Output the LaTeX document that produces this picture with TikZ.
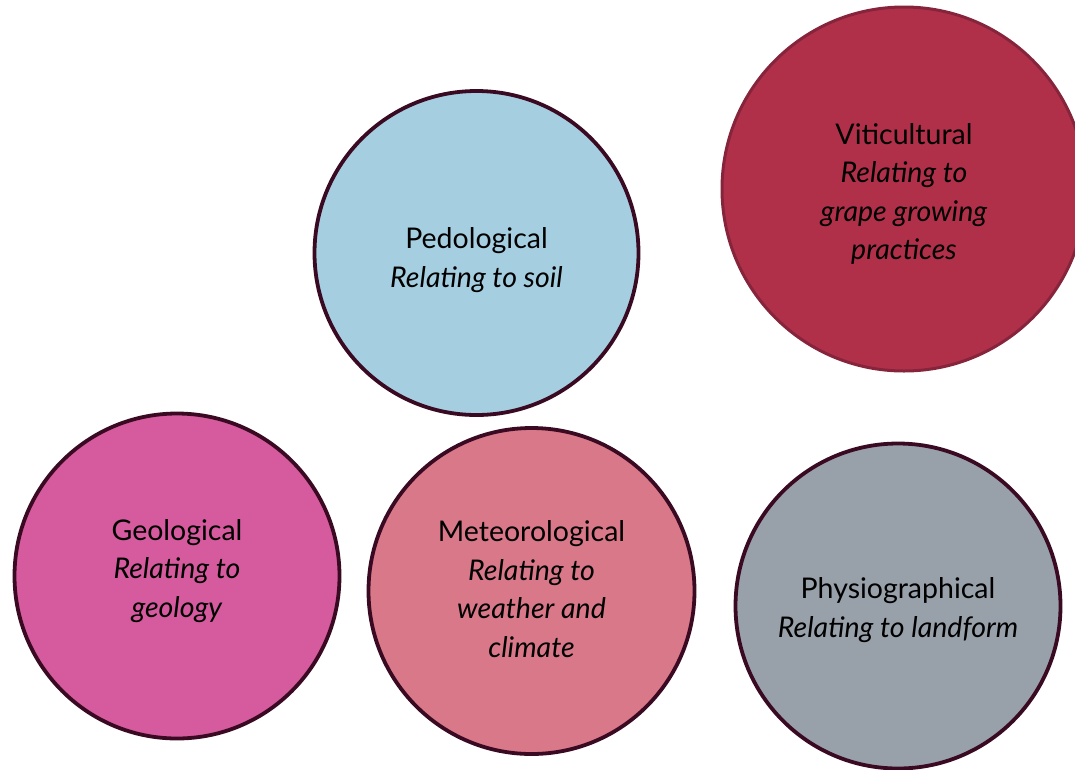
\documentclass[tikz,border=0pt]{standalone}
\usepackage{fontspec}
\setmainfont{Lato}
\definecolor{rim}{HTML}{3A0A22}
\definecolor{vitrim}{HTML}{85243A}
\definecolor{pedfill}{HTML}{A5CFE1}
\definecolor{vitfill}{HTML}{B03049}
\definecolor{geofill}{HTML}{D55A9E}
\definecolor{metfill}{HTML}{D97889}
\definecolor{phyfill}{HTML}{98A0AA}
\begin{document}
\begin{tikzpicture}[x=1pt,y=-1pt,
  bub/.style={circle, draw=rim, line width=3.8pt, inner sep=0pt},
  txt/.style={align=center, inner sep=0pt, font=\fontsize{28.5}{38.5}\selectfont, text=black}]
\useasboundingbox (0,0) rectangle (1075,769);
\clip (0,0) rectangle (1075,769);
\node[bub, fill=vitfill, draw=vitrim, line width=3pt, minimum size=364pt] (vit) at (904,189) {};
\node[txt] (vitt) at ([yshift=-5pt]vit.center)
  {Viticultural\\\textit{Relating to}\\\textit{grape growing}\\\textit{practices}};
\node[bub, fill=pedfill, minimum size=324pt] (ped) at (476.5,253) {};
\node[txt] (pedt) at ([yshift=-7pt]ped.center)
  {Pedological\\\textit{Relating to soil}};
\node[bub, fill=geofill, minimum size=325pt] (geo) at (177,576) {};
\node[txt] (geot) at ([yshift=5pt]geo.center)
  {Geological\\\textit{Relating to}\\\textit{geology}};
\node[bub, fill=metfill, minimum size=326pt] (met) at (531.5,591) {};
\node[txt] (mett) at ([yshift=2pt]met.center)
  {Meteorological\\\textit{Relating to}\\\textit{weather and}\\\textit{climate}};
\node[bub, fill=phyfill, minimum size=325pt] (phy) at (898,606) {};
\node[txt] (phyt) at ([yshift=-4pt]phy.center)
  {Physiographical\\\textit{Relating to landform}};
\end{tikzpicture}
\end{document}
